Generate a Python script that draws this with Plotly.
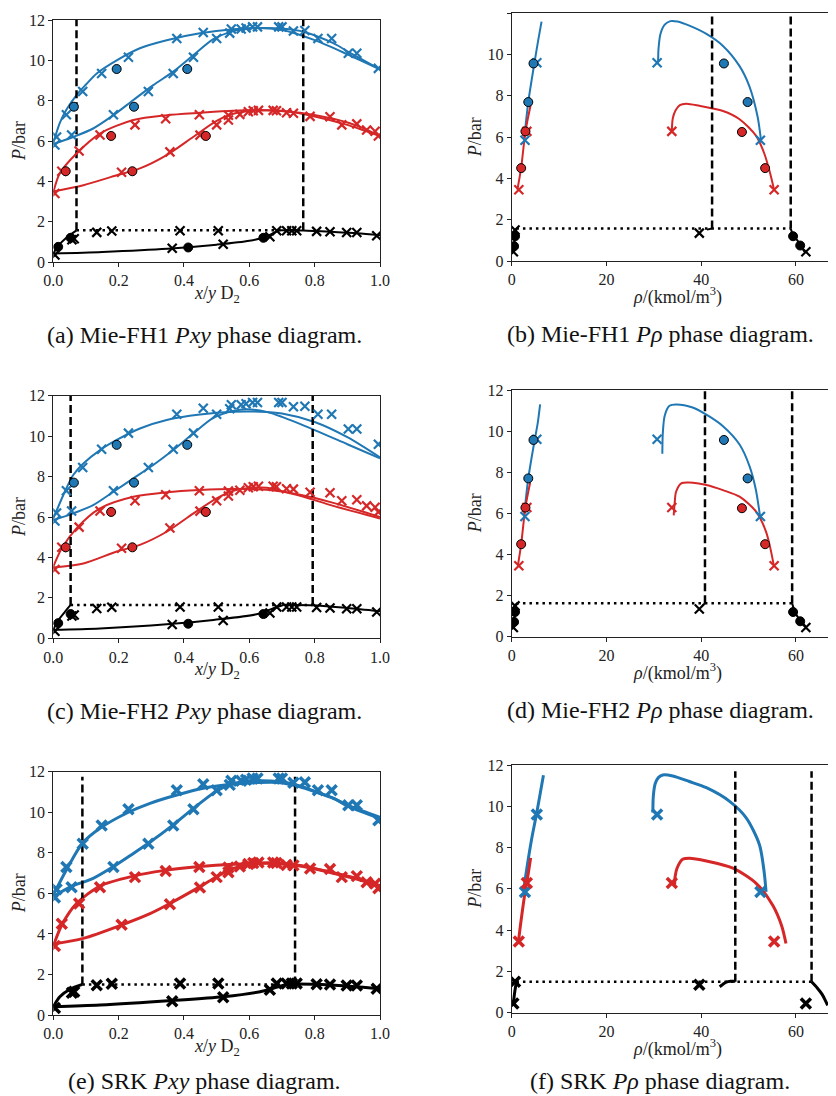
import plotly.graph_objects as go

BLUE = "#1f77b4"
RED = "#d62728"
BLACK = "#000000"

# ---------------- experimental data, Pxy (x/y D2, P/bar) ----------------
EXP_BLUE_XS = [0.005, 0.01, 0.04, 0.056, 0.09, 0.148, 0.184, 0.23, 0.291, 0.367, 0.378, 0.429, 0.459, 0.5,
               0.54, 0.545, 0.575, 0.59, 0.61, 0.625, 0.69, 0.70, 0.735, 0.77, 0.81, 0.852, 0.903, 0.929, 0.995]
EXP_BLUE_PS = [5.8, 6.2, 7.3, 6.3, 8.45, 9.35, 7.3, 10.15, 8.45, 9.35, 11.08, 10.15, 11.38, 11.08,
               11.35, 11.55, 11.55, 11.6, 11.66, 11.66, 11.66, 11.66, 11.45, 11.48, 11.08, 11.08, 10.35, 10.35, 9.6]
EXP_BLUE_CX = [0.063, 0.194, 0.247, 0.41]
EXP_BLUE_CP = [7.7, 9.57, 7.7, 9.57]

EXP_RED_XS = [0.005, 0.026, 0.079, 0.143, 0.209, 0.25, 0.344, 0.357, 0.447, 0.449, 0.5, 0.536, 0.536, 0.571,
              0.597, 0.612, 0.628, 0.673, 0.683, 0.714, 0.735, 0.786, 0.847, 0.883, 0.929, 0.959, 0.985, 0.995]
EXP_RED_PS = [3.4, 4.5, 5.5, 6.3, 4.45, 6.8, 7.1, 5.46, 7.3, 6.29, 6.8, 7.28, 7.04, 7.32,
              7.45, 7.5, 7.52, 7.52, 7.5, 7.4, 7.38, 7.22, 7.2, 6.8, 6.85, 6.55, 6.48, 6.25]
EXP_RED_CX = [0.038, 0.177, 0.242, 0.467]
EXP_RED_CP = [4.5, 6.25, 4.5, 6.25]

EXP_BLACK_XS = [0.005, 0.057, 0.064, 0.133, 0.179, 0.364, 0.388, 0.505, 0.52, 0.663, 0.684, 0.714, 0.73,
                0.745, 0.806, 0.847, 0.898, 0.929, 0.99]
EXP_BLACK_PS = [0.35, 1.1, 1.15, 1.47, 1.54, 0.68, 1.55, 1.55, 0.88, 1.25, 1.55, 1.55, 1.55,
                1.55, 1.52, 1.5, 1.46, 1.46, 1.3]
EXP_BLACK_CX = [0.015, 0.053, 0.413, 0.643]
EXP_BLACK_CP = [0.75, 1.2, 0.72, 1.2]

# ---------------- experimental data, P-rho (rho/(kmol/m3), P/bar) ----------------
RHO_BLUE_XS = [2.8, 5.3, 30.7, 52.5]
RHO_BLUE_PS = [5.85, 9.6, 9.6, 5.85]
RHO_RED_XS = [1.5, 3.2, 33.8, 55.4]
RHO_RED_PS = [3.45, 6.28, 6.28, 3.45]
RHO_BLACK_XS = [0.35, 0.7, 39.6, 62.1]
RHO_BLACK_PS = [0.45, 1.5, 1.35, 0.45]
RHO_BLUE_CX = [3.5, 4.6, 44.8, 49.8]
RHO_BLUE_CP = [7.7, 9.57, 9.57, 7.7]
RHO_RED_CX = [2.0, 2.9, 48.6, 53.5]
RHO_RED_CP = [4.5, 6.28, 6.25, 4.5]
RHO_BLACK_CX = [0.5, 0.7, 59.4, 60.9]
RHO_BLACK_CP = [0.72, 1.2, 1.2, 0.75]

# ---------------- (a) Mie-FH1 Pxy model ----------------
A_BLUE_DEW_X = [0, 0.02, 0.04, 0.071, 0.1, 0.133, 0.194, 0.265, 0.347, 0.449, 0.551, 0.633, 0.714, 0.765, 0.857, 0.9, 0.939, 1.0]
A_BLUE_DEW_P = [5.9, 6.9, 7.55, 8.28, 8.8, 9.35, 10.0, 10.6, 11.0, 11.34, 11.54, 11.6, 11.55, 11.42, 10.85, 10.45, 10.1, 9.55]
A_BLUE_BUB_X = [0, 0.061, 0.122, 0.184, 0.245, 0.306, 0.367, 0.429, 0.49, 0.551, 0.612, 0.7, 0.8, 0.9, 1.0]
A_BLUE_BUB_P = [5.85, 6.2, 6.62, 7.28, 8.03, 8.77, 9.44, 10.26, 11.05, 11.45, 11.6, 11.5, 11.0, 10.3, 9.55]
A_RED_DEW_X = [0, 0.02, 0.071, 0.143, 0.245, 0.347, 0.449, 0.551, 0.653, 0.755, 0.857, 0.939, 1.0]
A_RED_DEW_P = [3.45, 4.4, 5.38, 6.37, 7.04, 7.28, 7.4, 7.5, 7.53, 7.4, 7.1, 6.7, 6.24]
A_RED_BUB_X = [0, 0.092, 0.194, 0.265, 0.347, 0.429, 0.5, 0.551, 0.612, 0.7, 0.8, 0.9, 1.0]
A_RED_BUB_P = [3.5, 3.81, 4.3, 4.64, 5.3, 6.21, 7.0, 7.35, 7.5, 7.5, 7.22, 6.8, 6.24]
A_BLK_DEW_X = [0, 0.15, 0.35, 0.5, 0.6, 0.65, 0.69]
A_BLK_DEW_P = [0.42, 0.5, 0.66, 0.86, 1.05, 1.25, 1.57]
A_BLK_BUB_X = [0, 0.015, 0.04, 0.071]
A_BLK_BUB_P = [0.42, 0.8, 1.2, 1.57]
A_BLK_RIGHT_X = [0.69, 0.765, 0.85, 0.93, 1.0]
A_BLK_RIGHT_P = [1.57, 1.56, 1.5, 1.43, 1.33]
A_P3 = 1.57
A_LLE = [0.071, 0.765]
A_TOP = 12.0

# ---------------- (b) Mie-FH1 P-rho model ----------------
B_BLUE_VAP_X = [2.6, 3.5, 4.8, 5.6, 6.3]
B_BLUE_VAP_P = [5.85, 7.7, 9.6, 10.7, 11.6]
B_RED_VAP_X = [1.2, 2.0, 2.9, 4.0]
B_RED_VAP_P = [3.45, 4.52, 6.27, 7.56]
B_BLUE_LIQ_X = [30.9, 31.0, 31.4, 32.3, 33.5, 35.0, 37.5, 41.1, 44.6, 48.1, 50.2, 51.9, 52.6]
B_BLUE_LIQ_P = [9.6, 10.3, 11.0, 11.45, 11.62, 11.6, 11.4, 11.0, 10.42, 9.44, 8.45, 7.0, 5.9]
B_RED_LIQ_X = [33.8, 34.0, 34.6, 35.5, 36.8, 39.6, 44.6, 48.1, 51.6, 53.3, 54.5, 55.4]
B_RED_LIQ_P = [6.27, 6.9, 7.3, 7.55, 7.62, 7.52, 7.27, 6.87, 6.06, 5.22, 4.3, 3.44]
B_BLK_VAP_X = [0.3, 0.5, 0.7, 1.0]
B_BLK_VAP_P = [0.42, 0.75, 1.15, 1.57]
B_BLK_L1_X = [41.2, 42.3]
B_BLK_L1_P = [1.52, 1.57]
B_BLK_L2_X = [58.9, 59.4, 60.3, 60.9, 61.8]
B_BLK_L2_P = [1.57, 1.25, 1.0, 0.78, 0.45]
B_P3 = 1.57
B_LLE = [42.3, 58.9]
B_TOP = 12.0

# ---------------- (c) Mie-FH2 Pxy model ----------------
C_BLUE_DEW_X = [0, 0.04, 0.061, 0.092, 0.143, 0.194, 0.265, 0.347, 0.449, 0.551, 0.633, 0.7, 0.8, 0.9, 1.0]
C_BLUE_DEW_P = [5.93, 7.42, 8.08, 8.65, 9.31, 9.81, 10.38, 10.8, 11.07, 11.21, 11.21, 11.12, 10.7, 9.95, 8.95]
C_BLUE_BUB_X = [0, 0.061, 0.122, 0.184, 0.245, 0.306, 0.367, 0.429, 0.49, 0.551, 0.592, 0.653, 0.7, 0.8, 0.9, 1.0]
C_BLUE_BUB_P = [5.85, 6.18, 6.59, 7.25, 7.91, 8.57, 9.31, 10.14, 10.9, 11.25, 11.33, 11.2, 10.95, 10.3, 9.6, 8.9]
C_RED_DEW_X = [0, 0.026, 0.071, 0.143, 0.245, 0.347, 0.449, 0.551, 0.653, 0.755, 0.857, 1.0]
C_RED_DEW_P = [3.54, 4.45, 5.44, 6.43, 7.0, 7.22, 7.33, 7.38, 7.35, 7.1, 6.7, 6.0]
C_RED_BUB_X = [0, 0.092, 0.194, 0.265, 0.347, 0.429, 0.5, 0.551, 0.612, 0.653, 0.755, 0.857, 1.0]
C_RED_BUB_P = [3.5, 3.7, 4.29, 4.62, 5.27, 6.18, 6.92, 7.3, 7.45, 7.45, 7.05, 6.55, 5.93]
C_BLK_DEW_X = [0, 0.143, 0.347, 0.49, 0.622, 0.684, 0.704]
C_BLK_DEW_P = [0.42, 0.49, 0.69, 0.91, 1.19, 1.55, 1.65]
C_BLK_BUB_X = [0, 0.012, 0.036, 0.053]
C_BLK_BUB_P = [0.42, 0.82, 1.32, 1.65]
C_BLK_RIGHT_X = [0.704, 0.794, 0.9, 1.0]
C_BLK_RIGHT_P = [1.65, 1.64, 1.5, 1.34]
C_P3 = 1.65
C_LLE = [0.053, 0.794]
C_TOP = 12.0

# ---------------- (d) Mie-FH2 P-rho model ----------------
D_BLUE_VAP_X = [2.6, 3.5, 4.8, 5.5, 6.0]
D_BLUE_VAP_P = [5.85, 7.7, 9.5, 10.4, 11.3]
D_RED_VAP_X = [1.3, 2.0, 2.9, 3.9]
D_RED_VAP_P = [3.45, 4.5, 6.3, 7.5]
D_BLUE_LIQ_X = [31.8, 31.9, 32.3, 33.3, 34.7, 38.2, 41.1, 44.6, 48.1, 50.2, 51.5, 52.4]
D_BLUE_LIQ_P = [8.9, 9.9, 10.75, 11.23, 11.3, 11.15, 10.8, 10.24, 9.35, 8.3, 7.2, 5.9]
D_RED_LIQ_X = [34.2, 34.4, 34.7, 35.8, 37.5, 41.1, 44.6, 48.1, 51.6, 53.7, 54.7, 55.3]
D_RED_LIQ_P = [5.9, 6.5, 7.05, 7.46, 7.5, 7.38, 7.13, 6.81, 6.08, 5.1, 4.2, 3.5]
D_BLK_VAP_X = [0.3, 0.5, 0.7, 1.0]
D_BLK_VAP_P = [0.45, 0.75, 1.15, 1.63]
D_BLK_L1_X = [40.2, 40.8]
D_BLK_L1_P = [1.5, 1.63]
D_BLK_L2_X = [59.2, 59.8, 60.7, 61.5, 62.2]
D_BLK_L2_P = [1.63, 1.2, 0.85, 0.65, 0.45]
D_P3 = 1.63
D_LLE = [40.8, 59.2]
D_TOP = 12.0

# ---------------- (e) SRK Pxy model ----------------
E_BLUE_DEW_X = [0, 0.04, 0.089, 0.143, 0.23, 0.296, 0.378, 0.459, 0.551, 0.622, 0.694, 0.755, 0.806, 0.857, 0.908, 1.0]
E_BLUE_DEW_P = [5.92, 7.15, 8.47, 9.21, 10.0, 10.44, 10.85, 11.18, 11.39, 11.46, 11.46, 11.26, 10.98, 10.68, 10.3, 9.75]
E_BLUE_BUB_X = [0, 0.054, 0.122, 0.184, 0.245, 0.291, 0.367, 0.429, 0.5, 0.551, 0.612, 0.694, 0.755, 0.806, 0.857, 0.908, 1.0]
E_BLUE_BUB_P = [5.84, 6.33, 6.74, 7.32, 7.97, 8.47, 9.38, 10.19, 11.05, 11.41, 11.54, 11.5, 11.3, 11.0, 10.7, 10.25, 9.7]
E_RED_DEW_X = [0, 0.026, 0.071, 0.143, 0.245, 0.337, 0.449, 0.551, 0.653, 0.755, 0.857, 0.939, 1.0]
E_RED_DEW_P = [3.4, 4.44, 5.5, 6.36, 6.85, 7.12, 7.32, 7.43, 7.48, 7.35, 6.99, 6.66, 6.33]
E_RED_BUB_X = [0, 0.092, 0.209, 0.296, 0.357, 0.449, 0.5, 0.551, 0.612, 0.684, 0.755, 0.857, 0.939, 1.0]
E_RED_BUB_P = [3.5, 3.78, 4.44, 5.0, 5.5, 6.33, 6.82, 7.23, 7.45, 7.5, 7.38, 7.02, 6.7, 6.38]
E_BLK_DEW_X = [0, 0.143, 0.364, 0.52, 0.633, 0.673, 0.714]
E_BLK_DEW_P = [0.41, 0.49, 0.71, 0.9, 1.15, 1.32, 1.51]
E_BLK_BUB_X = [0, 0.02, 0.051, 0.089]
E_BLK_BUB_P = [0.41, 0.9, 1.27, 1.51]
E_BLK_RIGHT_X = [0.714, 0.74, 0.85, 1.0]
E_BLK_RIGHT_P = [1.51, 1.53, 1.48, 1.3]
E_P3 = 1.51
E_LLE = [0.089, 0.74]
E_TOP = 11.75

# ---------------- (f) SRK P-rho model ----------------
F_BLUE_VAP_X = [2.5, 3.2, 4.2, 5.3, 6.0, 6.7]
F_BLUE_VAP_P = [5.9, 7.0, 8.4, 9.7, 10.6, 11.5]
F_RED_VAP_X = [1.4, 2.0, 2.8, 3.4, 4.0]
F_RED_VAP_P = [3.4, 4.5, 5.8, 6.6, 7.5]
F_BLUE_LIQ_X = [29.8, 29.9, 30.3, 31.0, 31.9, 34.0, 37.5, 41.1, 46.0, 49.5, 52.3, 53.3, 53.7]
F_BLUE_LIQ_P = [9.7, 10.5, 11.1, 11.4, 11.52, 11.47, 11.2, 10.9, 10.24, 9.44, 8.14, 6.8, 5.85]
F_RED_LIQ_X = [34.4, 34.5, 34.9, 36.1, 37.5, 41.1, 46.7, 51.6, 55.1, 57.0, 57.9]
F_RED_LIQ_P = [6.2, 6.6, 7.0, 7.43, 7.48, 7.35, 7.0, 6.27, 5.2, 4.2, 3.35]
F_BLK_VAP_X = [0.3, 0.5, 0.7, 1.0]
F_BLK_VAP_P = [0.4, 0.75, 1.1, 1.5]
F_BLK_L1_X = [43.9, 44.6, 45.3, 46.2, 47.2]
F_BLK_L1_P = [1.26, 1.38, 1.48, 1.52, 1.52]
F_BLK_L2_X = [63.3, 64.5, 65.5, 66.2, 66.7]
F_BLK_L2_P = [1.5, 1.2, 0.9, 0.6, 0.35]
F_P3 = 1.5
F_LLE = [47.2, 63.3]
F_TOP = 11.7

# ---------------- axis labels / captions ----------------
PXY_XTICKS = [0.0, 0.2, 0.4, 0.6, 0.8, 1.0]
RHO_XTICKS = [0, 20, 40, 60]
RHO_XMAX = 70
P_TICKS = [0, 2, 4, 6, 8, 10, 12]
PXY_XTITLE = "<i>x</i>/<i>y</i> D<sub>2</sub>"
RHO_XTITLE = "<i>ρ</i>/(kmol/m<sup>3</sup>)"
P_TITLE = "<i>P</i>/bar"
CAPTIONS = [
    "(a) Mie-FH1 <i>Pxy</i> phase diagram.",
    "(b) Mie-FH1 <i>Pρ</i> phase diagram.",
    "(c) Mie-FH2 <i>Pxy</i> phase diagram.",
    "(d) Mie-FH2 <i>Pρ</i> phase diagram.",
    "(e) SRK <i>Pxy</i> phase diagram.",
    "(f) SRK <i>Pρ</i> phase diagram.",
]

W, H = 836, 1096
OFF = 8  # page body margin of the html page
FONT = "Liberation Serif"

fig = go.Figure()


def px_x(p):
    return (p - OFF) / W


def px_y(p):
    return 1 - (p - OFF) / H


# panel geometry in screen pixels: (left, right, top, bottom)
GEOM = [
    (53.3, 380.0, 20.0, 262.0),
    (511.7, 843.3, 13.3, 261.0),
    (53.3, 380.0, 395.7, 638.3),
    (511.7, 843.3, 390.0, 636.7),
    (53.3, 380.0, 771.7, 1015.0),
    (511.7, 843.3, 765.0, 1012.7),
]
CAP_X = [204, 660]
CAP_MAX_Y = 1081


def ax_names(i):
    return ("x" if i == 0 else f"x{i+1}"), ("y" if i == 0 else f"y{i+1}")


def line(i, xs, ys, color, width, dash=None, smooth=True):
    xa, ya = ax_names(i)
    fig.add_trace(go.Scatter(
        x=xs, y=ys, mode="lines", xaxis=xa, yaxis=ya, showlegend=False, hoverinfo="skip",
        line=dict(color=color, width=width, dash=dash,
                  shape="spline" if smooth else "linear", smoothing=0.8 if smooth else 0),
    ))


def crosses(i, xs, ys, color, size=9, lw=2.2):
    xa, ya = ax_names(i)
    fig.add_trace(go.Scatter(
        x=xs, y=ys, mode="markers", xaxis=xa, yaxis=ya, showlegend=False, hoverinfo="skip",
        marker=dict(symbol="x-thin", size=size, color=color, line=dict(color=color, width=lw)),
    ))


def circles(i, xs, ys, color):
    xa, ya = ax_names(i)
    fig.add_trace(go.Scatter(
        x=xs, y=ys, mode="markers", xaxis=xa, yaxis=ya, showlegend=False, hoverinfo="skip",
        marker=dict(symbol="circle", size=9, color=color, line=dict(color="black", width=1)),
    ))


DASH = "8px,4px"
DOT = "2.5px,4px"


def pxy_panel(i, bd, bb, rd, rb, kd, kb, kr, p3, lle, top, lw, mlw, msz, show_circ):
    line(i, bd[0], bd[1], BLUE, lw)
    line(i, bb[0], bb[1], BLUE, lw)
    line(i, rd[0], rd[1], RED, lw)
    line(i, rb[0], rb[1], RED, lw)
    line(i, kd[0], kd[1], BLACK, lw)
    line(i, kb[0], kb[1], BLACK, lw)
    line(i, kr[0], kr[1], BLACK, lw)
    line(i, [lle[0], lle[1]], [p3, p3], BLACK, 2.5, DOT, smooth=False)
    line(i, [lle[0], lle[0]], [p3, top], BLACK, 2.5, DASH, smooth=False)
    line(i, [lle[1], lle[1]], [p3, top], BLACK, 2.5, DASH, smooth=False)
    crosses(i, EXP_BLUE_XS, EXP_BLUE_PS, BLUE, msz, mlw)
    crosses(i, EXP_RED_XS, EXP_RED_PS, RED, msz, mlw)
    crosses(i, EXP_BLACK_XS, EXP_BLACK_PS, BLACK, msz, mlw)
    if show_circ:
        circles(i, EXP_BLUE_CX, EXP_BLUE_CP, BLUE)
        circles(i, EXP_RED_CX, EXP_RED_CP, RED)
        circles(i, EXP_BLACK_CX, EXP_BLACK_CP, BLACK)


def rho_panel(i, bv, rv, bl, rl, kv, k1, k2, p3, lle, top, lw, mlw, msz, show_circ):
    line(i, bv[0], bv[1], BLUE, lw)
    line(i, rv[0], rv[1], RED, lw)
    line(i, bl[0], bl[1], BLUE, lw)
    line(i, rl[0], rl[1], RED, lw)
    line(i, kv[0], kv[1], BLACK, lw)
    line(i, k1[0], k1[1], BLACK, lw)
    line(i, k2[0], k2[1], BLACK, lw)
    line(i, [kv[0][-1], lle[1]], [p3, p3], BLACK, 2.5, DOT, smooth=False)
    line(i, [lle[0], lle[0]], [p3, top], BLACK, 2.5, DASH, smooth=False)
    line(i, [lle[1], lle[1]], [p3, top], BLACK, 2.5, DASH, smooth=False)
    crosses(i, RHO_BLUE_XS, RHO_BLUE_PS, BLUE, msz, mlw)
    crosses(i, RHO_RED_XS, RHO_RED_PS, RED, msz, mlw)
    crosses(i, RHO_BLACK_XS, RHO_BLACK_PS, BLACK, msz, mlw)
    if show_circ:
        circles(i, RHO_BLUE_CX, RHO_BLUE_CP, BLUE)
        circles(i, RHO_RED_CX, RHO_RED_CP, RED)
        circles(i, RHO_BLACK_CX, RHO_BLACK_CP, BLACK)


pxy_panel(0, (A_BLUE_DEW_X, A_BLUE_DEW_P), (A_BLUE_BUB_X, A_BLUE_BUB_P), (A_RED_DEW_X, A_RED_DEW_P),
          (A_RED_BUB_X, A_RED_BUB_P), (A_BLK_DEW_X, A_BLK_DEW_P), (A_BLK_BUB_X, A_BLK_BUB_P),
          (A_BLK_RIGHT_X, A_BLK_RIGHT_P), A_P3, A_LLE, A_TOP, 2.0, 2.2, 9, True)
rho_panel(1, (B_BLUE_VAP_X, B_BLUE_VAP_P), (B_RED_VAP_X, B_RED_VAP_P), (B_BLUE_LIQ_X, B_BLUE_LIQ_P),
          (B_RED_LIQ_X, B_RED_LIQ_P), (B_BLK_VAP_X, B_BLK_VAP_P), (B_BLK_L1_X, B_BLK_L1_P),
          (B_BLK_L2_X, B_BLK_L2_P), B_P3, B_LLE, B_TOP, 2.0, 2.2, 9, True)
pxy_panel(2, (C_BLUE_DEW_X, C_BLUE_DEW_P), (C_BLUE_BUB_X, C_BLUE_BUB_P), (C_RED_DEW_X, C_RED_DEW_P),
          (C_RED_BUB_X, C_RED_BUB_P), (C_BLK_DEW_X, C_BLK_DEW_P), (C_BLK_BUB_X, C_BLK_BUB_P),
          (C_BLK_RIGHT_X, C_BLK_RIGHT_P), C_P3, C_LLE, C_TOP, 2.0, 2.2, 9, True)
rho_panel(3, (D_BLUE_VAP_X, D_BLUE_VAP_P), (D_RED_VAP_X, D_RED_VAP_P), (D_BLUE_LIQ_X, D_BLUE_LIQ_P),
          (D_RED_LIQ_X, D_RED_LIQ_P), (D_BLK_VAP_X, D_BLK_VAP_P), (D_BLK_L1_X, D_BLK_L1_P),
          (D_BLK_L2_X, D_BLK_L2_P), D_P3, D_LLE, D_TOP, 2.0, 2.2, 9, True)
pxy_panel(4, (E_BLUE_DEW_X, E_BLUE_DEW_P), (E_BLUE_BUB_X, E_BLUE_BUB_P), (E_RED_DEW_X, E_RED_DEW_P),
          (E_RED_BUB_X, E_RED_BUB_P), (E_BLK_DEW_X, E_BLK_DEW_P), (E_BLK_BUB_X, E_BLK_BUB_P),
          (E_BLK_RIGHT_X, E_BLK_RIGHT_P), E_P3, E_LLE, E_TOP, 3.0, 3.5, 10, False)
rho_panel(5, (F_BLUE_VAP_X, F_BLUE_VAP_P), (F_RED_VAP_X, F_RED_VAP_P), (F_BLUE_LIQ_X, F_BLUE_LIQ_P),
          (F_RED_LIQ_X, F_RED_LIQ_P), (F_BLK_VAP_X, F_BLK_VAP_P), (F_BLK_L1_X, F_BLK_L1_P),
          (F_BLK_L2_X, F_BLK_L2_P), F_P3, F_LLE, F_TOP, 3.0, 3.5, 10, False)

layout = dict(
    width=W, height=H, margin=dict(l=0, r=0, t=0, b=0, autoexpand=False),
    paper_bgcolor="white", plot_bgcolor="white",
    font=dict(family=FONT, size=16, color="#222"),
)

annotations = []


def add_text(x, y, text, size, angle=0, color="#222"):
    annotations.append(dict(
        x=px_x(x), y=px_y(y), xref="paper", yref="paper", text=text, showarrow=False,
        xanchor="center", yanchor="middle", textangle=angle,
        font=dict(family=FONT, size=size, color=color),
    ))


for i, (l, r, t, b) in enumerate(GEOM):
    xk = "xaxis" if i == 0 else f"xaxis{i+1}"
    yk = "yaxis" if i == 0 else f"yaxis{i+1}"
    xa, ya = ax_names(i)
    is_pxy = (i % 2 == 0)
    if is_pxy:
        xr = [0, 1]
        xt = PXY_XTICKS
        xtxt = [f"{v:.1f}" for v in PXY_XTICKS]
    else:
        xr = [0, RHO_XMAX]
        xt = RHO_XTICKS
        xtxt = [str(v) for v in RHO_XTICKS]
    layout[xk] = dict(
        domain=[px_x(l), min(1.0, px_x(r))], anchor=ya, range=xr, autorange=False, automargin=False,
        tickmode="array", tickvals=xt, ticktext=xtxt,
        showgrid=False, zeroline=False, showline=True, linecolor="#222", linewidth=1, mirror=True,
        ticks="outside", ticklen=4, tickcolor="#222", tickfont=dict(size=16, family=FONT),
    )
    layout[yk] = dict(
        domain=[px_y(b), px_y(t)], anchor=xa, range=[0, 12], autorange=False, automargin=False,
        tickmode="array", tickvals=P_TICKS, ticktext=[str(v) for v in P_TICKS],
        showgrid=False, zeroline=False, showline=True, linecolor="#222", linewidth=1,
        mirror=is_pxy,
        ticks="outside", ticklen=4, tickcolor="#222", tickfont=dict(size=16, family=FONT),
    )
    # axis titles
    if is_pxy:
        add_text((l + r) / 2, b + 32, PXY_XTITLE, 18)
        add_text(19, (t + b) / 2, P_TITLE, 18, -90)
    else:
        add_text((l + r) / 2, b + 35, RHO_XTITLE, 18)
        add_text(475, (t + b) / 2, P_TITLE, 18, -90)
    # caption
    add_text(CAP_X[i % 2], min(b + 73, CAP_MAX_Y), CAPTIONS[i], 24, 0, "#111")

layout["annotations"] = annotations

fig.update_layout(**layout)
fig.write_html("out.html")
